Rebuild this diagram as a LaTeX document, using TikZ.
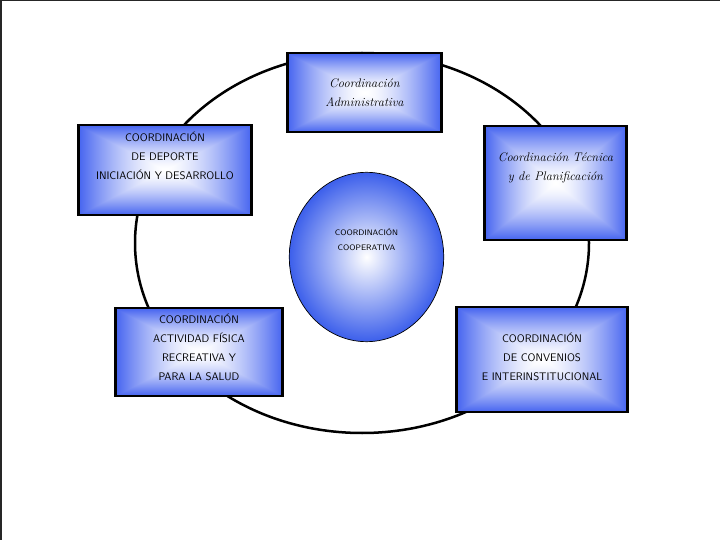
\documentclass[tikz,border=0pt]{standalone}
\usepackage{fontspec}
\usepackage{tikz}
\usetikzlibrary{shapes.geometric}

\definecolor{circblue}{RGB}{60,95,235}

% rectangular white-to-blue gradient for the boxes
\pgfdeclarefunctionalshading{boxgrad}{\pgfpoint{-50bp}{-50bp}}{\pgfpoint{50bp}{50bp}}{}{
  abs exch abs 2 copy lt {exch} if pop 25 div dup 1 gt {pop 1} if dup sqrt mul
  dup -0.73 mul 1 add exch dup -0.61 mul 1 add exch -0.06 mul 1 add
}

\begin{document}
\begin{tikzpicture}[x=1bp, y=-1bp,
                box/.style={draw, line width=2.5bp, shade, shading=boxgrad, align=center, inner sep=4pt, font=\fontsize{11}{19}\selectfont\sffamily},
                script/.style={font=\fontsize{12.5}{19}\selectfont\itshape},
                hub/.style={ellipse, draw, line width=0.7bp, inner color=white, outer color=circblue, align=center, inner sep=0pt, font=\fontsize{8}{15}\selectfont\sffamily},
                lift/.style={text depth=#1},
                ring/.style={line width=2.5bp},
                frame/.style={line width=1.5bp, draw=black!85},
            ]
            \useasboundingbox (0,0) rectangle (720,540);

            % page frame (top and left edge only):
            \draw[frame] (0.75,540) -- (0.75,0.75) -- (720,0.75);

            % ring behind the boxes:
            \draw[ring] (362,243) ellipse [x radius=227, y radius=190];

            % centre:
            \node[hub, lift=34bp, minimum width=155, minimum height=170] (coop) at (366.5,257) {COORDINACIÓN\\COOPERATIVA};

            % boxes on the ring:
            \node[box, script, minimum width=155, minimum height=79] (adm) at (364.5,92.5) {Coordinación\\Administrativa};
            \node[box, lift=28bp, minimum width=174, minimum height=90] (dep) at (165,170) {COORDINACIÓN\\DE DEPORTE\\INICIACIÓN Y DESARROLLO};
            \node[box, script, lift=33bp, minimum width=143, minimum height=114] (tec) at (555.5,183) {Coordinación Técnica\\y de Planificación};
            \node[box, lift=10bp, minimum width=168, minimum height=88] (sal) at (199,352) {COORDINACIÓN\\ACTIVIDAD FÍSICA\\RECREATIVA Y\\PARA LA SALUD};
            \node[box, lift=6bp, minimum width=172, minimum height=105] (con) at (542,359.5) {COORDINACIÓN\\DE CONVENIOS\\E INTERINSTITUCIONAL};
        \end{tikzpicture}
\end{document}
